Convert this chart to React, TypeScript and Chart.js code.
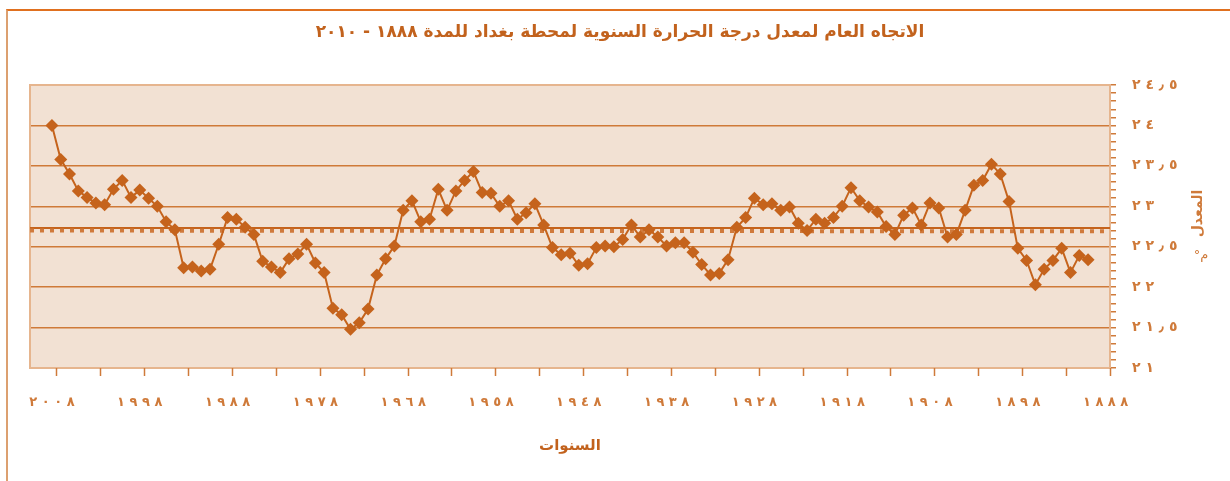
import React, { useEffect, useRef } from 'react';
import { Chart, registerables } from 'chart.js';

Chart.register(...registerables);

// ---- Text ----
const TITLE = 'الاتجاه العام لمعدل درجة الحرارة السنوية لمحطة بغداد للمدة ١٨٨٨ - ٢٠١٠';
const X_TITLE = 'السنوات';
const Y_TITLE = 'المعدل';
const Y_UNIT = 'م°';

// ---- Data (annual mean temperature, °C), from 2008 back to 1890 ----
const FIRST_YEAR = 2008;
const temps = [
  24.00, 23.58, 23.40, 23.19, 23.11, 23.04, 23.02, 23.21, 23.32, 23.11,
  23.20, 23.10, 23.00, 22.81, 22.71, 22.24, 22.25, 22.20, 22.22, 22.53,
  22.86, 22.84, 22.74, 22.65, 22.32, 22.25, 22.18, 22.35, 22.41, 22.53,
  22.30, 22.18, 21.74, 21.66, 21.48, 21.56, 21.73, 22.15, 22.35, 22.51,
  22.95, 23.07, 22.81, 22.84, 23.21, 22.95, 23.19, 23.32, 23.43, 23.17,
  23.16, 23.00, 23.07, 22.84, 22.92, 23.03, 22.77, 22.49, 22.40, 22.42,
  22.27, 22.29, 22.49, 22.51, 22.50, 22.59, 22.77, 22.62, 22.71, 22.62,
  22.51, 22.55, 22.55, 22.43, 22.28, 22.15, 22.17, 22.34, 22.74, 22.86,
  23.10, 23.02, 23.03, 22.95, 22.99, 22.79, 22.70, 22.84, 22.79, 22.86,
  23.00, 23.23, 23.07, 22.99, 22.93, 22.75, 22.65, 22.89, 22.98, 22.77,
  23.04, 22.98, 22.62, 22.65, 22.95, 23.26, 23.32, 23.52, 23.40, 23.06,
  22.48, 22.33, 22.03, 22.22, 22.33, 22.48, 22.18, 22.39, 22.34,
];
const years = temps.map((_, i) => FIRST_YEAR - i);

// mean (solid) and trend (dotted) reference lines
const meanLine = [22.73, 22.73];
const trendLine = [22.70, 22.69];

// ---- Axes ----
const X_MIN = 1887.5;
const X_MAX = 2010.5;
const xLabelYears = [2008, 1998, 1988, 1978, 1968, 1958, 1948, 1938, 1928, 1918, 1908, 1898, 1888];
const xMarkYears = [
  2007.5, 2002.5, 1997.5, 1992.5, 1987.5, 1982.5, 1977.5, 1972.5, 1967.5, 1962.5,
  1957.5, 1952.5, 1947.5, 1942.5, 1937.5, 1932.5, 1927.5, 1922.5, 1917.5, 1912.5,
  1907.5, 1902.5, 1897.5, 1892.5, 1887.5,
];
const Y_MIN = 21;
const Y_MAX = 24.5;
const Y_MINOR_STEP = 0.1;

// ---- Style ----
const FONT = '"DejaVu Sans", sans-serif';
const LINE_COLOR = '#c5631c';
const TITLE_COLOR = '#c2621d';
const TICK_COLOR = '#cf7a3a';
const GRID_COLOR = '#cf7a38';
const PLOT_BG = '#f2e1d3';
const PLOT_BORDER = '#e6b58e';

// Arabic-Indic digits, spread apart with no-break spaces (bidi class CS keeps the digit order)
const SP = '\u00A0';
const toArabicDigits = (s: string) => s.replace(/[0-9]/g, (d) => '٠١٢٣٤٥٦٧٨٩'[Number(d)]);
const spread = (s: string) => Array.from(s).join(SP);
const isMajor = (v: number) => Math.abs(v * 2 - Math.round(v * 2)) < 1e-6;

const decorPlugin = {
  id: 'decor',
  beforeDraw(chart: any) {
    const { ctx, chartArea: a } = chart;
    ctx.save();
    ctx.fillStyle = PLOT_BG;
    ctx.fillRect(a.left, a.top, a.right - a.left, a.bottom - a.top);
    ctx.restore();
  },
  beforeDatasetsDraw(chart: any) {
    const { ctx, chartArea: a } = chart;
    ctx.save();
    ctx.strokeStyle = PLOT_BORDER;
    ctx.lineWidth = 2;
    ctx.strokeRect(a.left, a.top, a.right - a.left, a.bottom - a.top);
    ctx.restore();
  },
  afterDraw(chart: any) {
    const { ctx, chartArea: a, scales } = chart;
    ctx.save();
    // x tick marks between categories
    ctx.strokeStyle = TICK_COLOR;
    ctx.lineWidth = 1.5;
    xMarkYears.forEach((v) => {
      const px = Math.round(scales.x.getPixelForValue(v)) + 0.5;
      ctx.beginPath();
      ctx.moveTo(px, a.bottom);
      ctx.lineTo(px, a.bottom + 8);
      ctx.stroke();
    });
    // y title
    ctx.fillStyle = TICK_COLOR;
    ctx.font = `bold 14px ${FONT}`;
    ctx.textAlign = 'center';
    ctx.textBaseline = 'middle';
    const cx = a.right + 88;
    const cy = (a.top + a.bottom) / 2 - 13;
    ctx.save();
    ctx.translate(cx, cy);
    ctx.rotate(-Math.PI / 2);
    ctx.fillText(Y_TITLE, 0, 0);
    ctx.restore();
    (ctx as any).direction = 'rtl';
    ctx.font = `13px ${FONT}`;
    ctx.fillText(Y_UNIT, cx + 3, cy + 42);
    ctx.restore();
  },
};

export default function App() {
  const canvasRef = useRef<HTMLCanvasElement | null>(null);

  useEffect(() => {
    if (!canvasRef.current) return;
    const chart = new Chart(canvasRef.current, {
      type: 'line',
      data: {
        datasets: [
          {
            label: 'mean',
            data: temps.map((t, i) => ({ x: years[i], y: t })),
            borderColor: LINE_COLOR,
            backgroundColor: LINE_COLOR,
            borderWidth: 2,
            pointStyle: 'rectRot',
            pointRadius: 6.5,
            pointBorderWidth: 0,
            tension: 0,
            order: 1,
          },
          {
            label: 'avg',
            data: [
              { x: X_MAX, y: meanLine[0] },
              { x: X_MIN, y: meanLine[1] },
            ],
            borderColor: LINE_COLOR,
            borderWidth: 2,
            pointRadius: 0,
            order: 3,
          },
          {
            label: 'trend',
            data: [
              { x: X_MAX, y: trendLine[0] },
              { x: X_MIN, y: trendLine[1] },
            ],
            borderColor: '#d07a3c',
            borderWidth: 4,
            borderDash: [4, 6],
            pointRadius: 0,
            order: 2,
          },
        ],
      },
      options: {
        responsive: false,
        animation: false,
        events: [],
        layout: { padding: { left: 30, right: 20, top: 0, bottom: 0 } },
        plugins: {
          legend: { display: false },
          tooltip: { enabled: false },
          title: {
            display: true,
            text: TITLE,
            color: TITLE_COLOR,
            font: { family: FONT, size: 17, weight: 'bold' },
            padding: { top: 22.8, bottom: 41.8 },
          },
        },
        scales: {
          x: {
            type: 'linear',
            reverse: true,
            min: X_MIN,
            max: X_MAX,
            afterBuildTicks: (scale: any) => {
              scale.ticks = xLabelYears.map((v) => ({ value: v }));
            },
            afterFit: (scale: any) => {
              scale.height = 113;
            },
            grid: { display: false, drawTicks: false },
            border: { display: false },
            ticks: {
              autoSkip: false,
              maxRotation: 0,
              padding: 27,
              color: TICK_COLOR,
              font: { family: FONT, size: 13, weight: 'bold' },
              callback: (v: any) => spread(toArabicDigits(String(v))),
            },
            title: {
              display: true,
              text: X_TITLE,
              color: TITLE_COLOR,
              font: { family: FONT, size: 15, weight: 'bold' },
              padding: { top: 0, bottom: 26 },
            },
          },
          y: {
            type: 'linear',
            position: 'right',
            min: Y_MIN,
            max: Y_MAX,
            afterBuildTicks: (scale: any) => {
              const n = Math.round((Y_MAX - Y_MIN) / Y_MINOR_STEP);
              const t = [];
              for (let i = 0; i <= n; i++) t.push({ value: Math.round((Y_MIN + i * Y_MINOR_STEP) * 10) / 10 });
              scale.ticks = t;
            },
            afterFit: (scale: any) => {
              scale.width = 100;
            },
            grid: {
              color: (c: any) => (c.tick && isMajor(c.tick.value) ? GRID_COLOR : 'rgba(0,0,0,0)'),
              tickColor: TICK_COLOR,
              lineWidth: 1.5,
              tickWidth: 1.5,
              tickLength: 6,
            },
            border: { display: true, color: '#d98a4a', width: 2 },
            ticks: {
              autoSkip: false,
              padding: 16,
              color: TICK_COLOR,
              font: { family: FONT, size: 14, weight: 'bold' },
              callback: (v: any) => {
                const n = Number(v);
                if (!isMajor(n)) return '';
                const whole = Math.floor(n + 1e-9);
                const frac = Math.round((n - whole) * 10);
                const w = spread(toArabicDigits(String(whole)));
                return frac ? w + SP + '٫' + SP + toArabicDigits(String(frac)) : w;
              },
            },
          },
        },
      },
      plugins: [decorPlugin],
    } as any);
    return () => chart.destroy();
  }, []);

  return (
    <div style={{ position: 'absolute', left: 0, top: 0, width: 1230, height: 481, overflow: 'hidden', background: '#fff' }}>
      <div
        style={{
          position: 'absolute',
          left: 6,
          top: 9,
          width: 1300,
          height: 600,
          borderTop: '2px solid #e0701f',
          borderLeft: '2px solid #dca070',
        }}
      />
      <canvas ref={canvasRef} width={1230} height={481} style={{ position: 'absolute', left: 0, top: 0, width: 1230, height: 481 }} />
    </div>
  );
}
